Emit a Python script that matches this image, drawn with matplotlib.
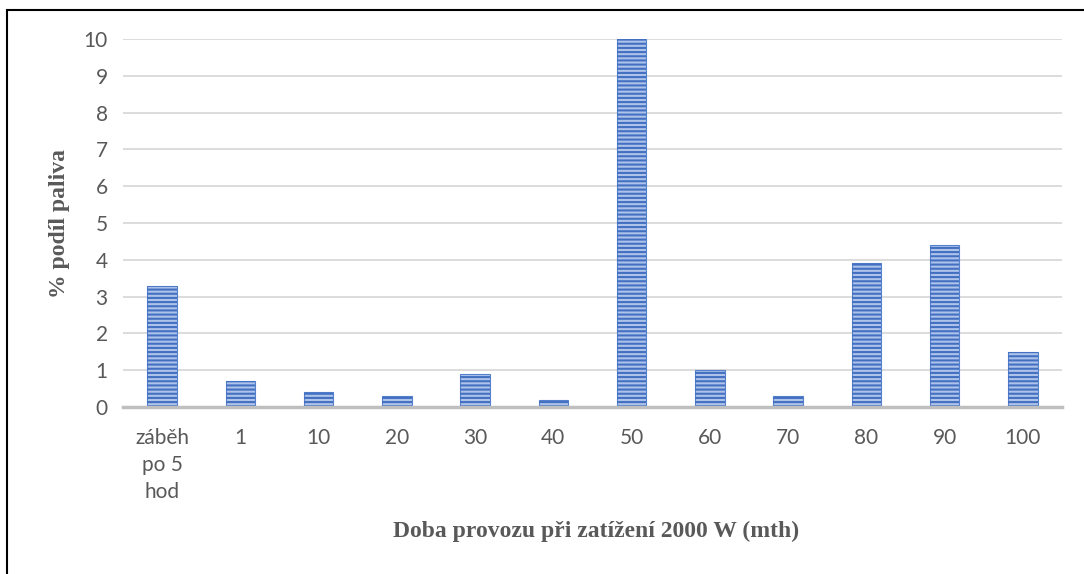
import matplotlib.pyplot as plt
from matplotlib.patches import Rectangle

# hodnoty odečtené pro jednotlivé doby provozu
kategorie = ['záběh\npo 5\nhod', '1', '10', '20', '30', '40', '50', '60', '70', '80', '90', '100']
podil = [3.3, 0.7, 0.4, 0.3, 0.9, 0.2, 10.0, 1.0, 0.3, 3.9, 4.4, 1.5]
y_ticks = list(range(0, 11))

plt.rcParams['hatch.linewidth'] = 1.5

W, H = 1084, 574
fig = plt.figure(figsize=(W / 100, H / 100), dpi=100)
ax = fig.add_axes([123 / W, 1 - 407 / H, (1062 - 123) / W, (407 - 39) / H])

x = list(range(len(kategorie)))
# podklad sloupců a přes něj vodorovné šrafování
ax.bar(x, podil, width=0.38, color='#adc3ea', edgecolor='#5580cc', linewidth=0.8, zorder=3)
ax.bar(x, podil, width=0.38, facecolor='none', edgecolor='#4470c2', hatch='----', linewidth=0, zorder=4)

ax.set_xlim(-0.5, len(kategorie) - 0.5)
ax.set_ylim(0, 10)
ax.set_yticks(y_ticks)
ax.set_xticks(x)
ax.set_xticklabels(kategorie, linespacing=1.45, va='top')

for s in ['top', 'right', 'left']:
    ax.spines[s].set_visible(False)
ax.spines['bottom'].set_color('#bfbfbf')
ax.spines['bottom'].set_linewidth(2.5)
ax.spines['bottom'].set_zorder(5)

ax.grid(axis='y', color='#d9d9d9', linewidth=1.3, zorder=0)
ax.tick_params(axis='both', length=0, labelsize=15, labelcolor='#595959')
ax.tick_params(axis='x', pad=15)
ax.tick_params(axis='y', pad=11)
for lbl in ax.get_xticklabels() + ax.get_yticklabels():
    lbl.set_family('Lato')

ax.set_ylabel('% podíl paliva', family='Liberation Serif', fontweight='bold',
              fontsize=17, color='#595959', labelpad=10)
fig.text(596 / W, 1 - 531 / H, 'Doba provozu při zatížení 2000 W (mth)',
         family='Liberation Serif', fontweight='bold', fontsize=17,
         color='#595959', ha='center', va='center')

# rámeček kolem grafu
fig.patches.append(Rectangle((7 / W, -0.05), 1.1, 1 - 10 / H + 0.05,
                             transform=fig.transFigure, fill=False,
                             edgecolor='black', linewidth=1.5))

fig.savefig('out.png', dpi=100)
